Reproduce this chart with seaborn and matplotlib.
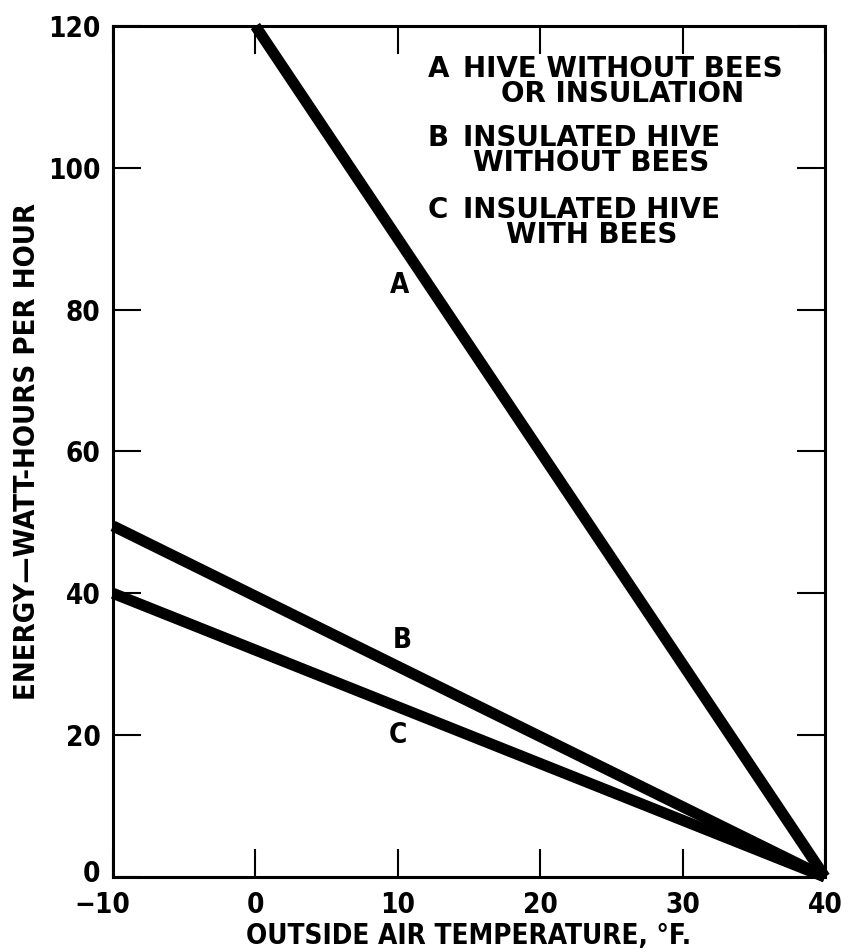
"""
Energy used to keep a hive warm vs outside air temperature.
Recreated with seaborn / matplotlib.
"""

import pandas as pd
import matplotlib.pyplot as plt
import matplotlib.transforms as mtransforms
import seaborn as sns

# --- data ---
temp_a = [0, 40]
energy_a = [120, 0]
temp_b = [-10, 40]
energy_b = [49.5, 0]
temp_c = [-10, 40]
energy_c = [40, 0]

x_ticks = [-10, 0, 10, 20, 30, 40]
y_ticks = [0, 20, 40, 60, 80, 100, 120]

legend_keys = ['A', 'B', 'C']
legend_texts = ['HIVE WITHOUT BEES\nOR INSULATION',
                'INSULATED HIVE\nWITHOUT BEES',
                'INSULATED HIVE\nWITH BEES']

sns.set_theme(style="white")
plt.rcParams['font.family'] = ['Liberation Sans Narrow', 'DejaVu Sans']
plt.rcParams['font.stretch'] = 'condensed'
plt.rcParams['text.color'] = 'black'
plt.rcParams['axes.labelcolor'] = 'black'


def main():
    df = pd.concat([
        pd.DataFrame({'temp': temp_a, 'energy': energy_a, 'curve': 'A'}),
        pd.DataFrame({'temp': temp_b, 'energy': energy_b, 'curve': 'B'}),
        pd.DataFrame({'temp': temp_c, 'energy': energy_c, 'curve': 'C'}),
    ], ignore_index=True)

    fig = plt.figure(figsize=(8.49, 9.52), dpi=100)
    ax = fig.add_axes([113 / 849, 75 / 952, 712 / 849, 851 / 952])

    sns.lineplot(data=df, x='temp', y='energy', hue='curve', ax=ax,
                 palette=['black'] * 3, linewidth=8, legend=False,
                 solid_capstyle='butt', clip_on=False)

    ax.set_xlim(-10, 40)
    ax.set_ylim(0, 120)
    ax.set_xticks(x_ticks)
    ax.set_yticks(y_ticks)
    ax.tick_params(direction='in', length=20, width=1.5, color='black',
                   left=True, bottom=True, top=True, right=True,
                   labelsize=20, labelcolor='black')
    ax.tick_params(axis='y', pad=9)
    ax.tick_params(axis='x', pad=10)
    for lbl in ax.get_xticklabels() + ax.get_yticklabels():
        lbl.set_fontweight('bold')
    # the "-10" sits a little left of its tick in the original,
    # and the y "0" a little above the axis line
    first = ax.get_xticklabels()[0]
    first.set_transform(first.get_transform() +
                        mtransforms.ScaledTranslation(-11 / 100, 0, fig.dpi_scale_trans))
    zero = ax.get_yticklabels()[0]
    zero.set_transform(zero.get_transform() +
                       mtransforms.ScaledTranslation(0, 6 / 100, fig.dpi_scale_trans))
    for sp in ax.spines.values():
        sp.set_color('black')
        sp.set_linewidth(2.2)

    ax.set_xlabel('OUTSIDE AIR TEMPERATURE, °F.', fontsize=20, labelpad=2,
                  weight='bold')
    ax.set_ylabel('ENERGY—WATT-HOURS PER HOUR', fontsize=21, labelpad=5,
                  weight='bold')

    # curve labels
    ax.text(10.15, 83.5, 'A', fontsize=20, weight='bold', ha='center', va='center')
    ax.text(10.3, 33.4, 'B', fontsize=20, weight='bold', ha='center', va='center')
    ax.text(10.0, 20.0, 'C', fontsize=20, weight='bold', ha='center', va='center')

    # key in the upper right
    key_y = [0.966, 0.885, 0.800]
    for key, txt, y in zip(legend_keys, legend_texts, key_y):
        ax.text((428 - 113) / 712, y, key, transform=ax.transAxes, fontsize=20,
                weight='bold', family=['DejaVu Sans'], stretch='normal',
                ha='left', va='top')
        ax.text((463 - 113) / 712, y, txt, transform=ax.transAxes, fontsize=20,
                weight='bold', family=['DejaVu Sans'], stretch='normal',
                ha='left', va='top', multialignment='center', linespacing=0.85)

    fig.savefig('out.png', dpi=100)
    plt.close(fig)


if __name__ == '__main__':
    main()
